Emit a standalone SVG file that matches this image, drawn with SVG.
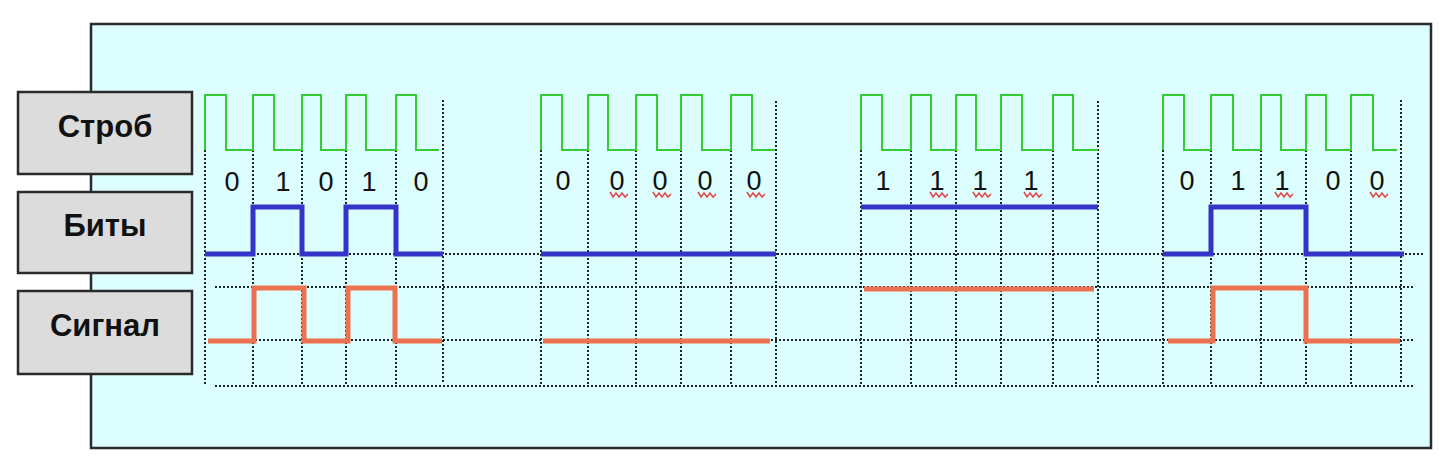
<svg xmlns="http://www.w3.org/2000/svg" width="1441" height="459" viewBox="0 0 1441 459">
<style>
.panel{fill:#dcfefe;stroke:#2a2a2a;stroke-width:2.5}
.box{fill:#dcdcdc;stroke:#2a2a2a;stroke-width:2.5}
.lbl{font-family:"Liberation Sans",Arial,sans-serif;font-weight:bold;font-size:31px;fill:#111;text-anchor:middle}
.dig{font-family:"Liberation Sans",Arial,sans-serif;font-size:27px;fill:#111;text-anchor:middle}
.grid{fill:none;stroke:#1a2626;stroke-width:2;stroke-dasharray:2 2}
.strobe{fill:none;stroke:#33cc33;stroke-width:2}
.bits{fill:none;stroke:#3434c8;stroke-width:5;stroke-linejoin:miter}
.sig{fill:none;stroke:#ec7150;stroke-width:5;stroke-linejoin:miter}
.sq{fill:none;stroke:#e04848;stroke-width:1.5}
</style>
<defs>
<path id="squig" d="M0,1 l3,5 l3,-4 l3,4 l3,-4 l3,4 l3,-3" />
</defs>
<rect id="panel" class="panel" x="91" y="24" width="1340" height="424"/>

<g id="grid">
<path class="grid" d="M205,150V384M253,150V384M302,150V384M346,150V384M396,150V384M443,100V384
M541,150V384M588,150V384M636,150V384M681,150V384M731,150V384M776,101V384
M861,150V384M911,150V384M956,150V384M1001,150V384M1053,150V384M1098,101V384
M1163,150V384M1211,150V384M1261,150V384M1306,150V384M1351,150V384M1401,100V384"/>
<path class="grid" d="M205,254H1425M215,287H1413M215,340H1413M215,386H1413"/>
</g>

<g id="label-strobe"><rect class="box" x="18" y="92" width="174" height="82"/><text class="lbl" x="105" y="137">Строб</text></g>
<g id="label-bits"><rect class="box" x="18" y="192" width="174" height="81"/><text class="lbl" x="105" y="236">Биты</text></g>
<g id="label-signal"><rect class="box" x="18" y="291" width="174" height="83"/><text class="lbl" x="105" y="336">Сигнал</text></g>

<g id="strobe">
<path class="strobe" d="M205,150V95H226V150H253V95H274V150H302V95H321V150H346V95H366V150H396V95H416V150H439"/>
<path class="strobe" d="M541,150V95H562V150H588V95H608V150H636V95H657V150H681V95H702V150H731V95H752V150H775"/>
<path class="strobe" d="M861,150V95H882V150H911V95H931V150H956V95H976V150H1001V95H1022V150H1053V95H1073V150H1098"/>
<path class="strobe" d="M1163,150V95H1184V150H1211V95H1233V150H1261V95H1281V150H1306V95H1326V150H1351V95H1373V150H1397"/>
</g>

<g id="digits">
<text class="dig" x="232" y="191">0</text><text class="dig" x="283" y="191">1</text><text class="dig" x="326" y="191">0</text><text class="dig" x="369" y="191">1</text><text class="dig" x="421" y="191">0</text>
<text class="dig" x="563" y="190">0</text><text class="dig" x="617" y="190">0</text><text class="dig" x="660" y="190">0</text><text class="dig" x="705" y="190">0</text><text class="dig" x="754" y="190">0</text>
<text class="dig" x="883" y="190">1</text><text class="dig" x="937" y="190">1</text><text class="dig" x="980" y="190">1</text><text class="dig" x="1031" y="190">1</text>
<text class="dig" x="1187" y="190">0</text><text class="dig" x="1238" y="190">1</text><text class="dig" x="1282" y="190">1</text><text class="dig" x="1333" y="190">0</text><text class="dig" x="1377" y="190">0</text>
</g>

<g id="squiggles">
<use href="#squig" class="sq" x="610" y="191"/>
<use href="#squig" class="sq" x="653" y="191"/>
<use href="#squig" class="sq" x="698" y="191"/>
<use href="#squig" class="sq" x="747" y="191"/>
<use href="#squig" class="sq" x="930" y="191"/>
<use href="#squig" class="sq" x="973" y="191"/>
<use href="#squig" class="sq" x="1024" y="191"/>
<use href="#squig" class="sq" x="1275" y="191"/>
<use href="#squig" class="sq" x="1370" y="191"/>
</g>

<g id="bits">
<path class="bits" d="M205,254H253V207H302V254H346V207H396V254H443"/>
<path class="bits" d="M541,254H776"/>
<path class="bits" d="M861,207H1098"/>
<path class="bits" d="M1163,254H1211V207H1306V254H1404"/>
</g>

<g id="signal">
<path class="sig" d="M208,341H254V288H304V341H348V288H395V341H442"/>
<path class="sig" d="M543,341H770"/>
<path class="sig" d="M864,289H1094"/>
<path class="sig" d="M1168,341H1213V288H1306V341H1400"/>
</g>
</svg>
